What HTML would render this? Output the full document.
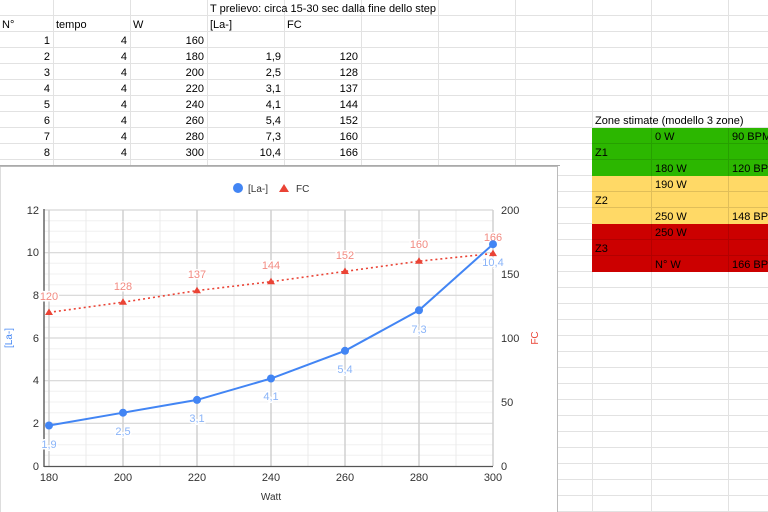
<!DOCTYPE html>
<html><head><meta charset="utf-8"><style>
body{margin:0;width:768px;height:512px;overflow:hidden;background:#fff;font-family:"Liberation Sans",Arial,sans-serif}
svg{display:block}
text{font-family:"Liberation Sans",Arial,sans-serif}
.lb{paint-order:stroke;stroke:#fff;stroke-width:3px}
</style></head><body>
<svg width="768" height="512" viewBox="0 0 768 512" xmlns="http://www.w3.org/2000/svg">
<path stroke="#e2e2e2" stroke-width="1" fill="none" d="M53.5 0V512M130.5 0V512M207.5 0V512M284.5 0V512M361.5 0V512M438.5 0V512M515.5 0V512M592.5 0V512M651.5 0V512M728.5 0V512
M0 15.5H768M0 31.5H768M0 47.5H768M0 63.5H768M0 79.5H768M0 95.5H768M0 111.5H768M0 127.5H768M0 143.5H768M0 159.5H768M0 175.5H768M0 191.5H768M0 207.5H768M0 223.5H768M0 239.5H768M0 255.5H768M0 271.5H768M0 287.5H768M0 303.5H768M0 319.5H768M0 335.5H768M0 351.5H768M0 367.5H768M0 383.5H768M0 399.5H768M0 415.5H768M0 431.5H768M0 447.5H768M0 463.5H768M0 479.5H768M0 495.5H768M0 511.5H768"/>
<line x1="0" y1="165.5" x2="560" y2="165.5" stroke="#aaa"/>
<rect x="592" y="128" width="176" height="48" fill="#2cb700"/>
<rect x="592" y="176" width="176" height="48" fill="#ffd966"/>
<rect x="592" y="224" width="176" height="48" fill="#cc0000"/>
<path stroke="rgba(0,0,0,0.12)" d="M651.5 128V272M728.5 128V272M592 143.5H768M592 159.5H768M592 191.5H768M592 207.5H768M592 239.5H768M592 255.5H768"/>
<g font-size="11" fill="#000">
<text x="595" y="124">Zone stimate (modello 3 zone)</text>
<text x="655" y="140">0 W</text><text x="732" y="140">90 BPM</text>
<text x="595" y="156">Z1</text>
<text x="655" y="172">180 W</text><text x="732" y="172">120 BPM</text>
<text x="655" y="188">190 W</text><text x="595" y="204">Z2</text>
<text x="655" y="220">250 W</text><text x="732" y="220">148 BPM</text>
<text x="655" y="236">250 W</text><text x="595" y="252">Z3</text>
<text x="655" y="268">N° W</text><text x="732" y="268">166 BPM</text>
</g>
<g font-size="11" fill="#000">
<text x="210" y="12">T prelievo: circa 15-30 sec dalla fine dello step</text>
<text x="2" y="28">N°</text><text x="56" y="28">tempo</text><text x="133" y="28">W</text><text x="210" y="28">[La-]</text><text x="287" y="28">FC</text>
</g>
<g font-size="11" fill="#000" text-anchor="end">
<text x="50" y="44">1</text><text x="127" y="44">4</text><text x="204" y="44">160</text>
<text x="50" y="60">2</text><text x="127" y="60">4</text><text x="204" y="60">180</text><text x="281" y="60">1,9</text><text x="358" y="60">120</text>
<text x="50" y="76">3</text><text x="127" y="76">4</text><text x="204" y="76">200</text><text x="281" y="76">2,5</text><text x="358" y="76">128</text>
<text x="50" y="92">4</text><text x="127" y="92">4</text><text x="204" y="92">220</text><text x="281" y="92">3,1</text><text x="358" y="92">137</text>
<text x="50" y="108">5</text><text x="127" y="108">4</text><text x="204" y="108">240</text><text x="281" y="108">4,1</text><text x="358" y="108">144</text>
<text x="50" y="124">6</text><text x="127" y="124">4</text><text x="204" y="124">260</text><text x="281" y="124">5,4</text><text x="358" y="124">152</text>
<text x="50" y="140">7</text><text x="127" y="140">4</text><text x="204" y="140">280</text><text x="281" y="140">7,3</text><text x="358" y="140">160</text>
<text x="50" y="156">8</text><text x="127" y="156">4</text><text x="204" y="156">300</text><text x="281" y="156">10,4</text><text x="358" y="156">166</text>
</g>
<rect x="0" y="166.5" width="557.5" height="346" fill="#fff" stroke="#bbb"/>
<path stroke="#f0f0f0" stroke-width="1" fill="none" d="M44 455.3H493M44 444.7H493M44 434H493M44 412.7H493M44 402H493M44 391.3H493M44 370H493M44 359.3H493M44 348.7H493M44 327.3H493M44 316.7H493M44 306H493M44 284.7H493M44 274H493M44 263.3H493M44 242H493M44 231.3H493M44 220.7H493"/>
<path stroke="#ebebeb" stroke-width="1" fill="none" d="M86 210V466M160 210V466M234 210V466M308 210V466M382 210V466M456 210V466"/>
<path stroke="#d6d6d6" stroke-width="1.2" fill="none" d="M44 423.3H493M44 380.7H493M44 338H493M44 295.3H493M44 252.7H493M44 210H493"/>
<path stroke="#d0d0d0" stroke-width="1.5" fill="none" d="M49 210V466M123 210V466M197 210V466M271 210V466M345 210V466M419 210V466M493 210V466"/>
<line x1="44" y1="209" x2="44" y2="467" stroke="#666" stroke-width="1.5"/>
<line x1="44" y1="466.5" x2="493" y2="466.5" stroke="#555" stroke-width="1.2"/>
<g font-size="11" fill="#333" text-anchor="end">
<text x="39" y="214">12</text><text x="39" y="256">10</text><text x="39" y="299">8</text><text x="39" y="342">6</text><text x="39" y="384">4</text><text x="39" y="427">2</text><text x="39" y="470">0</text>
</g>
<g font-size="11" fill="#333">
<text x="501" y="214">200</text><text x="501" y="278">150</text><text x="501" y="342">100</text><text x="501" y="406">50</text><text x="501" y="470">0</text>
</g>
<g font-size="11" fill="#333" text-anchor="middle">
<text x="49" y="481">180</text><text x="123" y="481">200</text><text x="197" y="481">220</text><text x="271" y="481">240</text><text x="345" y="481">260</text><text x="419" y="481">280</text><text x="493" y="481">300</text>
<text x="271" y="500" font-size="10">Watt</text>
</g>
<text x="12" y="338" font-size="10" fill="#4285f4" transform="rotate(-90 12 338)" text-anchor="middle">[La-]</text>
<text x="538" y="338" font-size="10" fill="#ea4335" transform="rotate(-90 538 338)" text-anchor="middle">FC</text>
<circle cx="238" cy="188" r="5" fill="#4285f4"/><text x="248" y="192" font-size="10" fill="#333">[La-]</text>
<polygon points="284,184 289,192 279,192" fill="#ea4335"/><text x="296" y="192" font-size="10" fill="#333">FC</text>
<polyline points="49,312.4 123,302.2 197,290.6 271,281.7 345,271.4 419,261.2 493,253.5" fill="none" stroke="#ea4335" stroke-width="1.6" stroke-dasharray="2,3"/>
<g fill="#ea4335">
<polygon points="49,308.5 53,315 45,315"/><polygon points="123,298.3 127,304.8 119,304.8"/><polygon points="197,286.7 201,293.2 193,293.2"/><polygon points="271,277.8 275,284.3 267,284.3"/><polygon points="345,267.5 349,274 341,274"/><polygon points="419,257.3 423,263.8 415,263.8"/><polygon points="493,249.6 497,256.1 489,256.1"/>
</g>
<g font-size="11" fill="#f28b82" text-anchor="middle" class="lb">
<text x="49" y="300" class="lb">120</text><text x="123" y="290" class="lb">128</text><text x="197" y="278" class="lb">137</text><text x="271" y="269" class="lb">144</text><text x="345" y="259" class="lb">152</text><text x="419" y="248" class="lb">160</text><text x="493" y="241" class="lb">166</text>
</g>
<polyline points="49,425.5 123,412.7 197,399.9 271,378.5 345,350.8 419,310.3 493,244.2" fill="none" stroke="#4285f4" stroke-width="2"/>
<g fill="#4285f4">
<circle cx="49" cy="425.5" r="4"/><circle cx="123" cy="412.7" r="4"/><circle cx="197" cy="399.9" r="4"/><circle cx="271" cy="378.5" r="4"/><circle cx="345" cy="350.8" r="4"/><circle cx="419" cy="310.3" r="4"/><circle cx="493" cy="244.2" r="4"/>
</g>
<g font-size="11" fill="#8ab4f8" text-anchor="middle">
<text x="49" y="448" class="lb">1,9</text><text x="123" y="435" class="lb">2,5</text><text x="197" y="422" class="lb">3,1</text><text x="271" y="400" class="lb">4,1</text><text x="345" y="373" class="lb">5,4</text><text x="419" y="333" class="lb">7,3</text><text x="493" y="266" class="lb">10,4</text>
</g>
</svg>
</body></html>
